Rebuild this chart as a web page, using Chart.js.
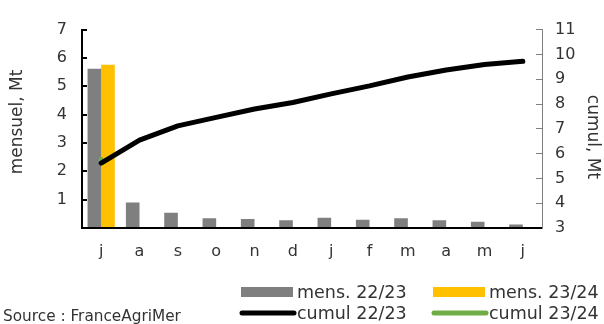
<!DOCTYPE html>
<html>
<head>
<meta charset="utf-8">
<script src="https://cdn.jsdelivr.net/npm/chart.js@4.4.1/dist/chart.umd.min.js"></script>
<style>
  html, body { margin: 0; padding: 0; background: #fff; }
  #wrap { width: 604px; height: 324px; position: relative; }
</style>
</head>
<body>
<div id="wrap"><canvas id="c" width="604" height="324"></canvas></div>
<script>
// Monthly and cumulative volumes (Mt), campaign July -> June
const months = ['j', 'a', 's', 'o', 'n', 'd', 'j', 'f', 'm', 'a', 'm', 'j'];
const mens2223 = [5.62, 0.90, 0.54, 0.34, 0.32, 0.27, 0.36, 0.29, 0.34, 0.27, 0.22, 0.12];
const mens2324 = [5.76, null, null, null, null, null, null, null, null, null, null, null];
const cumul2223 = [5.62, 6.54, 7.12, 7.46, 7.80, 8.06, 8.41, 8.73, 9.09, 9.37, 9.59, 9.72];
const cumul2324 = [5.76, null, null, null, null, null, null, null, null, null, null, null];

const leftTicks = [0, 1, 2, 3, 4, 5, 6, 7];
const rightTicks = [3, 4, 5, 6, 7, 8, 9, 10, 11];

const FONT = '"DejaVu Sans", sans-serif';
const TEXT = '#333333';

// Axis titles, legend and source line drawn on the canvas
const decorations = {
  id: 'decorations',
  afterDraw(chart) {
    const ctx = chart.ctx;
    const ds = chart.data.datasets;
    ctx.save();
    ctx.fillStyle = TEXT;

    // axis titles
    ctx.font = '17px ' + FONT;
    ctx.textAlign = 'center';
    ctx.textBaseline = 'middle';
    ctx.save();
    ctx.translate(18, 122);
    ctx.rotate(-Math.PI / 2);
    ctx.fillText('mensuel, Mt', 0, 0);
    ctx.restore();
    ctx.save();
    ctx.translate(592, 137);
    ctx.rotate(Math.PI / 2);
    ctx.fillText('cumul, Mt', 0, 0);
    ctx.restore();

    // legend: two rows, two columns
    const cols = [241, 433];
    const rows = [292, 313];
    const items = [
      { d: ds[0], c: 0, r: 0, kind: 'box' },
      { d: ds[1], c: 1, r: 0, kind: 'box' },
      { d: ds[2], c: 0, r: 1, kind: 'line' },
      { d: ds[3], c: 1, r: 1, kind: 'line' }
    ];
    ctx.font = '17.5px ' + FONT;
    ctx.textAlign = 'left';
    ctx.textBaseline = 'middle';
    items.forEach(it => {
      const x = cols[it.c], y = rows[it.r];
      if (it.kind === 'box') {
        ctx.fillStyle = it.d.backgroundColor;
        ctx.fillRect(x, y - 5, 52, 10);
      } else {
        ctx.strokeStyle = it.d.borderColor;
        ctx.lineWidth = 5;
        ctx.lineCap = 'round';
        ctx.beginPath();
        ctx.moveTo(x + 1, y);
        ctx.lineTo(x + 53, y);
        ctx.stroke();
      }
      ctx.fillStyle = TEXT;
      ctx.fillText(it.d.label, x + 56, y + 1);
    });

    // source
    ctx.font = '15.3px ' + FONT;
    ctx.textBaseline = 'alphabetic';
    ctx.fillText('Source : FranceAgriMer', 3, 321);
    ctx.restore();
  }
};

new Chart(document.getElementById('c'), {
  data: {
    labels: months,
    datasets: [
      { type: 'bar', label: 'mens. 22/23', data: mens2223, backgroundColor: '#7f7f7f',
        yAxisID: 'y', order: 2, barPercentage: 1, categoryPercentage: 0.71 },
      { type: 'bar', label: 'mens. 23/24', data: mens2324, backgroundColor: '#ffc000',
        yAxisID: 'y', order: 2, barPercentage: 1, categoryPercentage: 0.71 },
      { type: 'line', label: 'cumul 22/23', data: cumul2223, borderColor: '#000000',
        backgroundColor: '#000000', borderWidth: 5, pointRadius: 0, tension: 0,
        borderCapStyle: 'round', borderJoinStyle: 'round', yAxisID: 'y1', order: 1 },
      { type: 'line', label: 'cumul 23/24', data: cumul2324, borderColor: '#70ad47',
        backgroundColor: '#70ad47', borderWidth: 5, pointRadius: 0, tension: 0,
        borderCapStyle: 'round', borderJoinStyle: 'round', yAxisID: 'y1', order: 1 }
    ]
  },
  options: {
    responsive: false,
    animation: false,
    layout: { padding: { top: 21, left: 0, right: 0, bottom: 0 } },
    plugins: { legend: { display: false }, tooltip: { enabled: false } },
    scales: {
      x: {
        grid: { display: false, drawTicks: false },
        border: { color: '#000000', width: 2 },
        ticks: { color: TEXT, font: { family: FONT, size: 16 }, padding: 14, maxRotation: 0 },
        afterFit(s) { s.height = 96; }
      },
      y: {
        position: 'left', min: 0, max: 7,
        afterBuildTicks(s) { s.ticks = leftTicks.map(v => ({ value: v })); },
        grid: { drawOnChartArea: false, drawTicks: true, tickLength: -5, color: '#000000', lineWidth: 2 },
        border: { color: '#000000', width: 2 },
        ticks: { color: TEXT, font: { family: FONT, size: 16 }, padding: 20,
          callback: v => (v === 0 ? '' : String(v)) },
        afterFit(s) { s.width = 82; }
      },
      y1: {
        position: 'right', min: 3, max: 11,
        afterBuildTicks(s) { s.ticks = rightTicks.map(v => ({ value: v })); },
        grid: { drawOnChartArea: false, drawTicks: true, tickLength: -6, color: '#808080', lineWidth: 1 },
        border: { color: '#808080', width: 1 },
        ticks: { color: TEXT, font: { family: FONT, size: 16 }, padding: 19 },
        afterFit(s) { s.width = 62; }
      }
    }
  },
  plugins: [decorations]
});
</script>
</body>
</html>
